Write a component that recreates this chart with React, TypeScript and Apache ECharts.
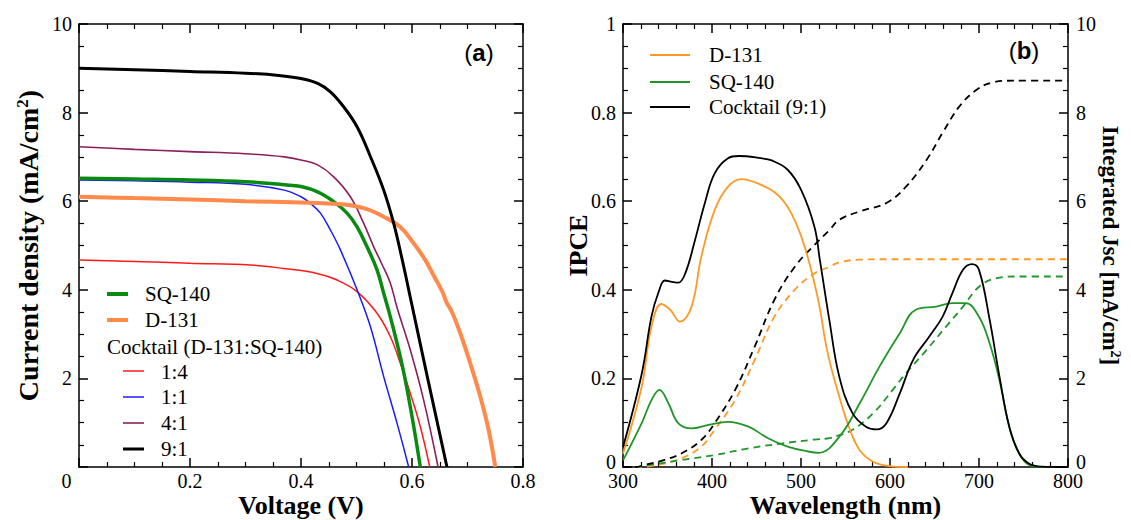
import React, { useEffect, useRef } from 'react';
import * as echarts from 'echarts';

const SERIF = 'Liberation Serif, Times New Roman, serif';
const SANS = 'Liberation Sans, Arial, sans-serif';

// ---------- Panel (a): J–V curves, [voltage (V), current density (mA/cm2)] ----------
const jvSQ140: number[][] = [
  [0, 6.52], [0.1, 6.5], [0.2, 6.48], [0.3, 6.44], [0.37, 6.37], [0.4, 6.33], [0.43, 6.21],
  [0.459, 5.99], [0.483, 5.73], [0.501, 5.42], [0.519, 4.97], [0.537, 4.45], [0.549, 3.92],
  [0.561, 3.39], [0.583, 2.26], [0.6, 1.14], [0.615, 0],
];
const jvD131: number[][] = [
  [0, 6.1], [0.1, 6.07], [0.2, 6.04], [0.3, 6.0], [0.4, 5.97], [0.459, 5.94], [0.489, 5.91],
  [0.519, 5.82], [0.549, 5.65], [0.579, 5.42], [0.603, 5.05], [0.624, 4.67], [0.64, 4.3],
  [0.655, 3.95], [0.662, 3.72], [0.672, 3.5], [0.687, 3.02], [0.705, 2.34], [0.723, 1.59],
  [0.738, 0.84], [0.75, 0],
];
const jvCocktail14: number[][] = [
  [0, 4.67], [0.1, 4.64], [0.2, 4.6], [0.309, 4.56], [0.369, 4.48], [0.429, 4.37], [0.465, 4.22],
  [0.501, 3.96], [0.537, 3.47], [0.561, 2.94], [0.579, 2.34], [0.597, 1.66], [0.615, 0.91], [0.632, 0],
];
const jvCocktail11: number[][] = [
  [0, 6.48], [0.1, 6.46], [0.2, 6.43], [0.3, 6.38], [0.37, 6.25], [0.4, 6.1], [0.417, 5.95],
  [0.435, 5.73], [0.453, 5.35], [0.471, 4.9], [0.501, 4.0], [0.525, 3.17], [0.549, 2.04],
  [0.573, 0.99], [0.594, 0],
];
const jvCocktail41: number[][] = [
  [0, 7.23], [0.1, 7.17], [0.2, 7.12], [0.3, 7.07], [0.37, 7.0], [0.4, 6.93], [0.43, 6.82],
  [0.459, 6.55], [0.489, 6.1], [0.513, 5.5], [0.531, 4.97], [0.545, 4.6], [0.561, 4.15],
  [0.573, 3.6], [0.597, 2.64], [0.621, 1.51], [0.647, 0],
];
const jvCocktail91: number[][] = [
  [0, 9.0], [0.1, 8.97], [0.2, 8.93], [0.3, 8.89], [0.36, 8.84], [0.4, 8.77], [0.43, 8.66],
  [0.453, 8.47], [0.477, 8.13], [0.501, 7.68], [0.525, 7.01], [0.549, 6.25], [0.567, 5.5],
  [0.582, 4.7], [0.6, 3.65], [0.63, 1.9], [0.663, 0],
];

// ---------- Panel (b): IPCE, [wavelength (nm), IPCE] ----------
const ipceD131: number[][] = [
  [300, 0.03], [321, 0.181], [332, 0.317], [343, 0.368], [353, 0.355], [364, 0.328], [377, 0.362],
  [388, 0.475], [403, 0.58], [418, 0.633], [433, 0.65], [455, 0.637], [474, 0.614], [489, 0.573],
  [504, 0.498], [519, 0.38], [530, 0.257], [543, 0.159], [555, 0.084], [566, 0.038], [581, 0.012],
  [600, 0.002], [620, 0],
];
const ipceSQ140: number[][] = [
  [300, 0.015], [321, 0.099], [332, 0.151], [341, 0.174], [351, 0.144], [362, 0.099], [377, 0.087],
  [396, 0.095], [418, 0.102], [441, 0.091], [463, 0.065], [485, 0.046], [508, 0.035], [520, 0.032],
  [543, 0.068], [566, 0.144], [588, 0.226], [611, 0.302], [629, 0.355], [652, 0.362], [670, 0.37],
  [685, 0.37], [700, 0.339], [712, 0.279], [723, 0.196], [734, 0.091], [745, 0.031], [756, 0.005],
  [770, 0], [800, 0],
];
const ipceCocktail: number[][] = [
  [300, 0.045], [321, 0.21], [332, 0.34], [340, 0.395], [347, 0.421], [355, 0.418], [362, 0.416],
  [370, 0.437], [381, 0.513], [392, 0.596], [403, 0.663], [418, 0.697], [430, 0.702], [455, 0.697],
  [467, 0.692], [485, 0.671], [500, 0.626], [515, 0.543], [521, 0.47], [532, 0.33], [543, 0.204],
  [558, 0.121], [573, 0.091], [585, 0.085], [596, 0.099], [611, 0.166], [626, 0.242], [644, 0.294],
  [659, 0.339], [670, 0.392], [682, 0.445], [692, 0.458], [700, 0.445], [712, 0.332], [723, 0.204],
  [734, 0.091], [745, 0.031], [756, 0.008], [770, 0.001], [800, 0],
];

// ---------- Panel (b): integrated Jsc, [wavelength (nm), Jsc (mA/cm2)] ----------
const jscD131: number[][] = [
  [300, 0], [315, 0], [340, 0.05], [366, 0.2], [388, 0.46], [403, 0.84], [426, 1.51], [448, 2.42],
  [470, 3.39], [493, 4.0], [515, 4.37], [532, 4.52], [543, 4.62], [566, 4.68], [600, 4.69], [800, 4.69],
];
const jscSQ140: number[][] = [
  [300, 0], [315, 0], [328, 0.04], [366, 0.16], [403, 0.27], [441, 0.42], [478, 0.53], [515, 0.62],
  [532, 0.65], [543, 0.72], [558, 0.84], [581, 1.21], [603, 1.74], [618, 2.12], [641, 2.64],
  [663, 3.17], [682, 3.62], [700, 4.07], [719, 4.26], [742, 4.3], [800, 4.3],
];
const jscCocktail: number[][] = [
  [300, 0], [313, 0], [325, 0.05], [345, 0.15], [366, 0.31], [388, 0.61], [403, 0.99], [426, 1.74],
  [448, 2.72], [470, 3.77], [493, 4.52], [515, 5.01], [532, 5.35], [543, 5.58], [566, 5.77],
  [596, 5.96], [618, 6.33], [641, 6.93], [659, 7.54], [678, 8.14], [697, 8.51], [715, 8.68],
  [738, 8.72], [800, 8.72],
];

// ---------- Tick settings ----------
const voltageTicks = { min: 0, max: 0.8, interval: 0.2, minorSplit: 4 };
const currentTicks = { min: 0, max: 10, interval: 2, minorSplit: 4 };
const wavelengthTicks = { min: 300, max: 800, interval: 100, minorSplit: 5 };
const ipceTicks = { min: 0, max: 1, interval: 0.2, minorSplit: 4 };
const jscTicks = { min: 0, max: 10, interval: 2, minorSplit: 4 };

// ---------- Colours ----------
const C_SQ_A = '#0b8a12';
const C_D_A = '#ff8a4c';
const C_RED = '#ff1a1a';
const C_BLUE = '#1a1aff';
const C_PURPLE = '#8b1f5c';
const C_BLACK = '#000000';
const C_D_B = '#ff9a26';
const C_SQ_B = '#22952a';

const LABEL_RICH = {
  z: { fontFamily: SERIF, fontSize: 20, color: '#000', padding: [0, 25, 0, 0] },
  u: { fontFamily: SERIF, fontSize: 20, color: '#000', padding: [0, 0, 10, 0] },
};

const axisBase = (t: any, gridIndex: number, position: string, showLabel: boolean, fmt?: any) => ({
  type: 'value',
  gridIndex,
  position,
  min: t.min,
  max: t.max,
  interval: t.interval,
  nameMoveOverlap: false,
  axisLine: { show: true, onZero: false, lineStyle: { color: '#000', width: 1.5 } },
  axisTick: { show: true, inside: true, length: 9, lineStyle: { color: '#000', width: 1.5 } },
  minorTick: { show: true, splitNumber: t.minorSplit, length: 5, lineStyle: { color: '#000', width: 1.2 } },
  splitLine: { show: false },
  minorSplitLine: { show: false },
  axisLabel: {
    show: showLabel,
    color: '#000',
    fontFamily: SERIF,
    fontSize: 20,
    formatter: fmt,
    rich: LABEL_RICH,
  },
});

const titleStyle = (size: number) => ({
  color: '#000',
  fontFamily: SERIF,
  fontWeight: 'bold',
  fontSize: size,
});

export default function App() {
  const ref = useRef<HTMLDivElement>(null);

  useEffect(() => {
    if (!ref.current) return;
    const chart = echarts.init(ref.current, undefined, { renderer: 'svg' });

    const xA0: any = axisBase(voltageTicks, 0, 'bottom', true, (v: number) =>
      v === 0 ? '{z|0}' : v.toFixed(1)
    );
    xA0.axisLabel.margin = 4;
    xA0.name = 'Voltage (V)';
    xA0.nameLocation = 'middle';
    xA0.nameGap = 25;
    xA0.nameTextStyle = { ...titleStyle(26), verticalAlign: 'top' };

    const xA1: any = axisBase(voltageTicks, 0, 'top', false);

    const yA0: any = axisBase(currentTicks, 0, 'left', true, (v: number) => (v === 0 ? '' : String(v)));
    yA0.axisLabel.margin = 7;
    yA0.name = '{t|Current density (mA/cm}{s|2}{t|)}';
    yA0.nameLocation = 'middle';
    yA0.nameGap = 36;
    yA0.nameTextStyle = {
      ...titleStyle(28),
      rich: {
        t: titleStyle(28),
        s: { ...titleStyle(17), verticalAlign: 'top', padding: [0, 0, 12, 0] },
      },
    };
    const yA1: any = axisBase(currentTicks, 0, 'right', false);

    const xA2: any = axisBase(wavelengthTicks, 1, 'bottom', true, (v: number) => String(v));
    xA2.axisLabel.margin = 4;
    xA2.name = 'Wavelength (nm)';
    xA2.nameLocation = 'middle';
    xA2.nameGap = 25;
    xA2.nameTextStyle = { ...titleStyle(26), verticalAlign: 'top' };
    const xA3: any = axisBase(wavelengthTicks, 1, 'top', false);

    const yA2: any = axisBase(ipceTicks, 1, 'left', true, (v: number) =>
      v === 0 ? '{u|0}' : v === 1 ? '1' : v.toFixed(1)
    );
    yA2.axisLabel.margin = 7;
    yA2.name = 'IPCE';
    yA2.nameLocation = 'middle';
    yA2.nameGap = 32;
    yA2.nameTextStyle = titleStyle(26);

    const yA3: any = axisBase(jscTicks, 1, 'right', true, (v: number) => (v === 0 ? '{u|0}' : String(v)));
    yA3.axisLabel.margin = 8;
    yA3.name = '{t|Integrated Jsc [mA/cm}{s|2}{t|]}';
    yA3.nameLocation = 'middle';
    yA3.nameRotate = -90;
    yA3.nameGap = 30;
    yA3.nameTextStyle = {
      ...titleStyle(23),
      rich: {
        t: titleStyle(23),
        s: { ...titleStyle(14), verticalAlign: 'top', padding: [0, 0, 10, 0] },
      },
    };

    const lineA = (name: string, data: number[][], color: string, width: number) => ({
      type: 'line',
      name,
      xAxisIndex: 0,
      yAxisIndex: 0,
      data,
      symbol: 'none',
      smooth: 0.4,
      lineStyle: { color, width },
      itemStyle: { color },
    });
    const lineB = (name: string, data: number[][], color: string, dashed: boolean, yIdx: number) => ({
      type: 'line',
      name,
      xAxisIndex: 2,
      yAxisIndex: yIdx,
      data,
      symbol: 'none',
      smooth: 0.4,
      lineStyle: { color, width: 1.8, type: dashed ? [7, 5] : 'solid' },
      itemStyle: { color },
    });

    const legendText = (x: number, y: number, text: string) => ({
      type: 'text',
      x,
      y,
      style: { text, fontFamily: SERIF, fontSize: 21, fill: '#000', verticalAlign: 'middle', align: 'left' },
    });
    const legendLine = (x1: number, x2: number, y: number, color: string, w: number) => ({
      type: 'line',
      shape: { x1, y1: y, x2, y2: y },
      style: { stroke: color, lineWidth: w },
    });
    const panelLabel = (x: number, y: number, letter: string) => ({
      type: 'text',
      x,
      y,
      style: {
        text: `{p|(}{b|${letter}}{p|)}`,
        align: 'center',
        verticalAlign: 'middle',
        rich: {
          p: { fontFamily: SANS, fontSize: 24, fill: '#000' },
          b: { fontFamily: SANS, fontSize: 24, fontWeight: 'bold', fill: '#000' },
        },
      },
    });

    chart.setOption({
      animation: false,
      backgroundColor: '#ffffff',
      grid: [
        { left: 79, right: 608, top: 24, bottom: 53, outerBoundsMode: 'none', containLabel: false },
        { left: 623, right: 63, top: 24, bottom: 53, outerBoundsMode: 'none', containLabel: false },
      ],
      xAxis: [xA0, xA1, xA2, xA3],
      yAxis: [yA0, yA1, yA2, yA3],
      series: [
        lineA('1:4', jvCocktail14, C_RED, 1.5),
        lineA('1:1', jvCocktail11, C_BLUE, 1.5),
        lineA('4:1', jvCocktail41, C_PURPLE, 1.6),
        lineA('SQ-140', jvSQ140, C_SQ_A, 3.5),
        lineA('D-131', jvD131, C_D_A, 4),
        lineA('9:1', jvCocktail91, C_BLACK, 3),
        lineB('D-131 Jsc', jscD131, C_D_B, true, 3),
        lineB('SQ-140 Jsc', jscSQ140, C_SQ_B, true, 3),
        lineB('Cocktail (9:1) Jsc', jscCocktail, C_BLACK, true, 3),
        lineB('D-131 IPCE', ipceD131, C_D_B, false, 2),
        lineB('SQ-140 IPCE', ipceSQ140, C_SQ_B, false, 2),
        lineB('Cocktail (9:1) IPCE', ipceCocktail, C_BLACK, false, 2),
      ],
      graphic: [
        legendLine(107, 128, 294, C_SQ_A, 4),
        legendText(145, 294, 'SQ-140'),
        legendLine(107, 128, 320, C_D_A, 4),
        legendText(145, 320, 'D-131'),
        legendText(107, 347, 'Cocktail (D-131:SQ-140)'),
        legendLine(123, 144, 371, C_RED, 1.5),
        legendText(161, 372, '1:4'),
        legendLine(123, 144, 397, C_BLUE, 1.5),
        legendText(161, 397, '1:1'),
        legendLine(123, 144, 423, C_PURPLE, 1.6),
        legendText(161, 423, '4:1'),
        legendLine(123, 144, 449, C_BLACK, 3),
        legendText(161, 449, '9:1'),
        legendLine(650, 690, 55, C_D_B, 1.8),
        legendText(709, 55, 'D-131'),
        legendLine(650, 690, 82, C_SQ_B, 1.8),
        legendText(709, 82, 'SQ-140'),
        legendLine(650, 690, 107, C_BLACK, 1.8),
        legendText(709, 107, 'Cocktail (9:1)'),
        panelLabel(479, 52, 'a'),
        panelLabel(1024, 50, 'b'),
      ],
    });

    return () => chart.dispose();
  }, []);

  return (
    <div
      ref={ref}
      style={{ position: 'fixed', left: 0, top: 0, width: 1131, height: 520, background: '#fff' }}
    />
  );
}
